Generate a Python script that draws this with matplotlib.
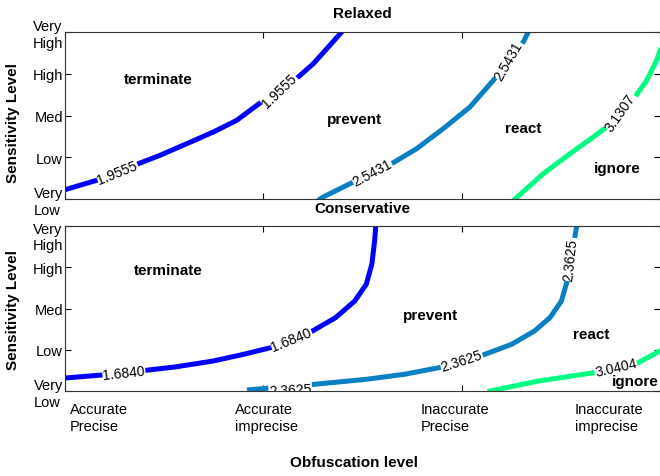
import numpy as np
import matplotlib.pyplot as plt

plt.rcParams['font.family'] = ['Liberation Sans', 'DejaVu Sans']

# sensitivity levels (y) and obfuscation levels (x, 0..3)
sens_labels = ['Very\nLow', 'Low', 'Med', 'High', 'Very\nHigh']
obf_labels = ['Accurate\nPrecise', 'Accurate\nimprecise', 'Inaccurate\nPrecise', 'Inaccurate\nimprecise']
obf_label_x = [0.025, 0.857, 1.795, 2.572]

c_low, c_mid, c_high = '#0000ff', '#0a7fc4', '#00ff80'

# ---- Relaxed policy: contour lines
rel_1_x = [0.0, 0.160, 0.370, 0.479, 0.614, 0.748, 0.866, 0.983, 1.176, 1.252, 1.320, 1.395]
rel_1_y = [0.223, 0.448, 0.846, 1.047, 1.325, 1.605, 1.885, 2.299, 2.922, 3.241, 3.600, 4.0]
rel_2_x = [1.286, 1.302, 1.454, 1.647, 1.773, 1.907, 2.042, 2.160, 2.311, 2.336]
rel_2_y = [0.0, 0.048, 0.407, 0.846, 1.205, 1.684, 2.204, 2.843, 3.760, 4.0]
rel_3_x = [2.269, 2.412, 2.546, 2.664, 2.731, 2.874, 2.933, 2.983, 3.0]
rel_3_y = [0.0, 0.607, 1.085, 1.485, 1.725, 2.443, 2.843, 3.322, 3.56]
rel_levels = ['1.9555', '2.5431', '3.1307']
# contour label positions: (x, y, screen angle, level index)
rel_clabels = [(0.264, 0.647, 22, 0), (1.079, 2.61, 44, 0),
               (1.549, 0.63, 28, 1), (2.235, 3.32, 60, 1),
               (2.802, 2.084, 55, 2)]
rel_regions = [('terminate', 0.469, 2.874), ('prevent', 1.462, 1.923),
               ('react', 2.309, 1.705), ('ignore', 2.783, 0.750)]

# ---- Conservative policy
con_1_x = [0.0, 0.187, 0.409, 0.554, 0.747, 0.901, 1.036, 1.248, 1.364, 1.461, 1.519, 1.547, 1.561, 1.567]
con_1_y = [0.315, 0.388, 0.502, 0.582, 0.727, 0.890, 1.050, 1.455, 1.777, 2.182, 2.587, 3.072, 3.636, 4.0]
con_2_x = [0.93, 1.258, 1.519, 1.711, 1.885, 2.117, 2.252, 2.367, 2.445, 2.503, 2.532, 2.570, 2.580]
con_2_y = [0.03, 0.162, 0.284, 0.405, 0.565, 0.889, 1.132, 1.455, 1.777, 2.182, 2.667, 3.717, 4.0]
con_3_x = [2.143, 2.387, 2.522, 2.667, 2.889, 3.0]
con_3_y = [0.0, 0.242, 0.339, 0.444, 0.686, 0.970]
con_levels = ['1.6840', '2.3625', '3.0404']
con_clabels = [(0.297, 0.444, 6, 0), (1.142, 1.253, 22, 0),
               (1.136, 0.02, 3, 1), (2.0, 0.727, 18, 1), (2.551, 3.19, 84, 1),
               (2.777, 0.566, 13, 2)]
con_regions = [('terminate', 0.523, 2.933), ('prevent', 1.844, 1.835),
               ('react', 2.654, 1.389), ('ignore', 2.874, 0.25)]


def panel(ax, lines, levels, clabels, regions, top_label=True):
    for (xs, ys), col in zip(lines, [c_low, c_mid, c_high]):
        ax.plot(xs, ys, color=col, linewidth=3.6, solid_joinstyle='round', zorder=2)
    for x, y, ang, k in clabels:
        ax.text(x, y, levels[k], rotation=ang, rotation_mode='anchor', ha='center', va='center',
                fontsize=10, color='black', zorder=3, clip_on=True,
                bbox=dict(facecolor='white', edgecolor='none', pad=0.3))
    for name, x, y in regions:
        ax.text(x, y, name, ha='center', va='center', fontsize=11, fontweight='bold',
                zorder=4, clip_on=False)
    ax.set_xlim(0, 3)
    ax.set_ylim(0, 4)
    ax.set_xticks([0, 1, 2, 3])
    ax.set_xticklabels([])
    ax.set_yticks([0, 1, 2, 3, 4])
    if top_label:
        ax.set_yticklabels(sens_labels, fontsize=10.5)
    else:
        ax.set_yticklabels(sens_labels[:-1] + [''], fontsize=10.5)
    for lab in ax.get_yticklabels():
        lab.set_multialignment('left')
    ax.tick_params(direction='in', top=True, right=True, length=4, width=0.8, pad=1.5)
    for side in ['left', 'top', 'bottom']:
        ax.spines[side].set_color('#333333')
        ax.spines[side].set_linewidth(0.8)
    ax.spines['right'].set_visible(False)


fig = plt.figure(figsize=(6.6, 4.77), dpi=100)
ax1 = fig.add_axes([65 / 660, 1 - 200 / 477, 595 / 660, 167 / 477])
ax2 = fig.add_axes([65 / 660, 1 - 392 / 477, 595 / 660, 165 / 477])

panel(ax1, [(rel_1_x, rel_1_y), (rel_2_x, rel_2_y), (rel_3_x, rel_3_y)],
      rel_levels, rel_clabels, rel_regions)
panel(ax2, [(con_1_x, con_1_y), (con_2_x, con_2_y), (con_3_x, con_3_y)],
      con_levels, con_clabels, con_regions, top_label=False)

# shifted "Very High" label of the lower panel
ax2.text(-0.01, 3.73, sens_labels[-1], ha='right', va='center', fontsize=10.5,
         multialignment='left', clip_on=False)

for name, x in zip(obf_labels, obf_label_x):
    ax2.text(x, -0.27, name, ha='left', va='top', fontsize=10.5, multialignment='left',
             linespacing=1.3, clip_on=False)

fig.text(362 / 660, 1 - 14 / 477, 'Relaxed', ha='center', va='center', fontsize=11, fontweight='bold')
fig.text(362 / 660, 1 - 209 / 477, 'Conservative', ha='center', va='center', fontsize=11, fontweight='bold')
fig.text(354 / 660, 1 - 463 / 477, 'Obfuscation level', ha='center', va='center', fontsize=11, fontweight='bold')
fig.text(13 / 660, 1 - 123 / 477, 'Sensitivity Level', rotation=90, ha='center', va='center',
         fontsize=11, fontweight='bold')
fig.text(13 / 660, 1 - 310 / 477, 'Sensitivity Level', rotation=90, ha='center', va='center',
         fontsize=11, fontweight='bold')

fig.savefig('out.png', dpi=100)
plt.close()
